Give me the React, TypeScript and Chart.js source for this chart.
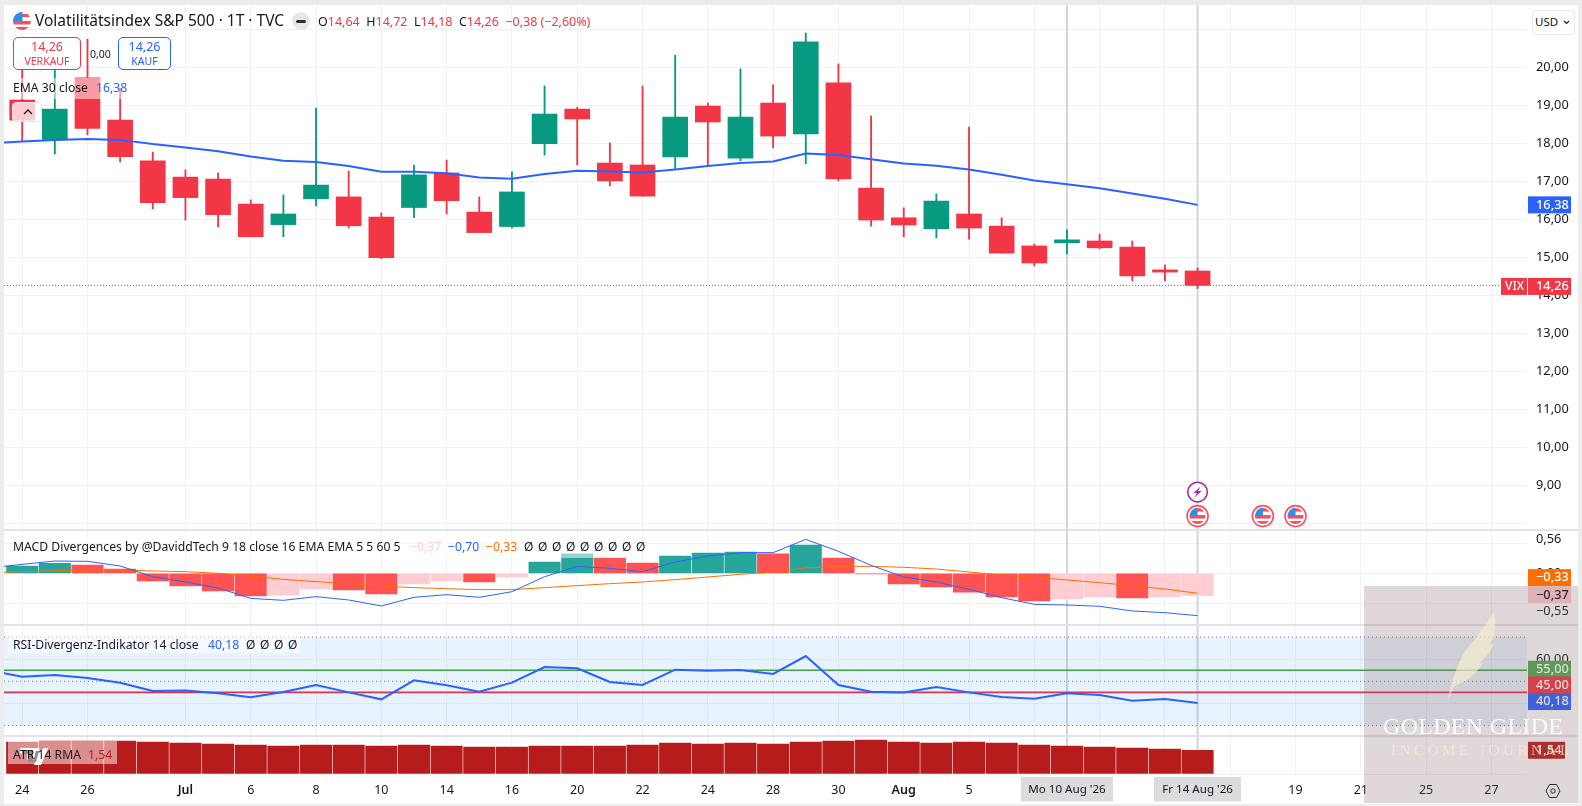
import React, { useEffect, useRef } from "react";
import { Chart, registerables } from "chart.js";

Chart.register(...registerables);

const FONT = '"Noto Sans", "Open Sans", sans-serif';
const RED = "#f23645";
const GREEN = "#089981";
const BLUE = "#2962ff";
const ORANGE = "#ff6d00";

// ---- Data -----------------------------------------------------------------
const candleOpen = [19.14,18.10,19.72,18.61,17.54,17.11,17.06,16.40,15.86,16.54,16.59,16.06,16.31,17.22,16.19,15.81,17.99,18.90,17.48,17.43,17.64,18.98,17.61,19.06,18.25,19.59,16.82,16.04,15.75,16.14,15.82,15.30,15.38,15.43,15.27,14.67,14.64];
const candleClose = [18.61,18.90,18.39,17.65,16.44,16.57,16.12,15.54,16.14,16.90,15.83,14.99,17.17,16.49,15.65,16.72,18.77,18.64,17.01,16.61,18.69,18.56,18.69,18.19,20.67,17.06,15.98,15.85,16.48,15.77,15.11,14.85,15.46,15.25,14.51,14.61,14.26];
const candleHigh = [20.10,20.06,20.74,19.45,17.77,17.30,17.22,16.51,16.64,18.93,17.27,16.17,17.43,17.56,16.59,17.25,19.51,18.95,18.01,19.51,20.32,19.06,19.96,19.54,20.90,20.09,18.72,16.30,16.67,18.43,16.04,15.35,15.72,15.61,15.43,14.80,14.72];
const candleLow = [18.04,17.72,18.22,17.51,16.27,15.98,15.80,15.54,15.54,16.35,15.77,14.96,16.04,16.14,15.65,15.77,17.69,17.43,16.88,16.61,17.32,17.43,17.54,17.88,17.46,17.01,15.82,15.54,15.51,15.48,15.11,14.77,15.09,15.22,14.38,14.38,14.18];
const emaValues = [18.0,18.05,18.09,18.11,18.09,17.98,17.89,17.79,17.65,17.54,17.51,17.40,17.25,17.25,17.21,17.10,17.07,17.19,17.28,17.26,17.23,17.31,17.40,17.48,17.52,17.73,17.69,17.58,17.47,17.41,17.31,17.17,17.02,16.92,16.82,16.68,16.54,16.38];
const histValues = [0.12,0.165,0.137,0.07,-0.127,-0.21,-0.29,-0.375,-0.36,-0.26,-0.276,-0.34,-0.177,-0.127,-0.144,-0.06,0.187,0.32,0.253,0.17,0.286,0.336,0.352,0.32,0.468,0.253,-0.012,-0.177,-0.226,-0.31,-0.39,-0.458,-0.425,-0.392,-0.408,-0.392,-0.37];
const histKinds = ["g","g","r","r","r","r","r","r","p","p","r","r","p","p","r","p","g","g","r","r","g","g","g","r","g","r","r","r","r","r","r","r","p","p","r","p","p"];
const macdValues = [0.088,0.148,0.203,0.198,0.121,-0.056,-0.144,-0.243,-0.414,-0.447,-0.386,-0.441,-0.54,-0.397,-0.353,-0.397,-0.304,-0.056,0.115,0.082,0.027,0.187,0.286,0.341,0.341,0.561,0.363,0.132,-0.061,-0.144,-0.265,-0.403,-0.513,-0.524,-0.545,-0.623,-0.651,-0.70];
const signalValues = [0.011,0.027,0.043,0.055,0.055,0.038,0.027,0,-0.045,-0.1,-0.138,-0.171,-0.21,-0.237,-0.254,-0.27,-0.27,-0.237,-0.204,-0.171,-0.144,-0.105,-0.061,-0.017,0.021,0.088,0.115,0.115,0.099,0.071,0.021,-0.028,-0.067,-0.11,-0.155,-0.205,-0.26,-0.33];
const rsiValues = [54.8,52.08,52.84,51.48,49.38,45.6,45.9,44.56,42.75,45.16,48.32,45.0,41.85,50.43,48.17,45.3,49.38,56.45,55.85,49.68,48.32,55.25,54.8,55.1,53.3,61.4,48.3,45.3,45.0,47.4,45.0,42.9,42.15,44.6,43.8,41.2,42.0,40.18];
const atrValues = [2.08,2.14,2.14,2.14,2.08,2.01,1.95,1.88,1.82,1.88,1.88,1.82,1.88,1.82,1.75,1.75,1.82,1.82,1.82,1.88,2.01,1.95,2.01,1.95,2.08,2.14,2.21,2.08,2.01,2.08,2.01,1.88,1.82,1.75,1.69,1.62,1.54];

const timeTickIndex = [0,2,5,7,9,11,13,15,17,19,21,23,25,27,29,31,33,35,37,39,41,43,45];
const timeTickLabels = ["24","26","Jul","6","8","10","14","16","20","22","24","28","30","Aug","5","","","","","19","21","25","27"];
const selectedIndex = [32, 36];
const selectedLabels = ["Mo 10 Aug '26", "Fr 14 Aug '26"];
const priceTicks = [21,20,19,18,17,16,15,14,13,12,11,10,9,8];
const priceTickHidden = [21, 8];
const flagEventIndex = [36, 38, 39];
const boltEventIndex = [36];
const lastClose = 14.26;
const lastEma = 16.38;

const X_MIN = -0.557;
const X_MAX = 46.09;
const GRID = "#f0f1f5";
const indices = candleOpen.map((_, i) => i);
const lineFrom = (values: number[]) => values.map((y, i) => ({ x: i - 1, y }));
const flat = (y: number) => [{ x: X_MIN, y }, { x: X_MAX, y }];
const num = (v: number) => v.toFixed(2).replace(".", ",").replace("-", "−");

type Tag = { value: number; text: string; bg: string; fg: string; dy?: number; w?: number; plain?: boolean };

function paneOptions(yMin: number, yMax: number, yTicks: number[], yLabel: (v: number) => string, yGrid: (v: number) => boolean, showTime: boolean): any {
  return {
    responsive: false,
    animation: false,
    events: [],
    layout: { padding: 0 },
    plugins: { legend: { display: false }, tooltip: { enabled: false } },
    scales: {
      x: {
        type: "linear",
        offset: false,
        min: X_MIN,
        max: X_MAX,
        display: true,
        afterBuildTicks: (s: any) => { s.ticks = timeTickIndex.map((value) => ({ value })); },
        afterFit: (s: any) => { s.height = showTime ? 30 : 0; s.paddingLeft = 0; s.paddingRight = 0; },
        border: { display: false },
        grid: { offset: false, color: GRID, lineWidth: 1, drawTicks: false },
        ticks: {
          display: showTime,
          autoSkip: false,
          maxRotation: 0,
          padding: 9,
          color: "#131722",
          font: (c: any) => ({ family: FONT, size: 12.5, weight: c.tick && (c.tick.value === 27 || c.tick.value === 5) ? "600" : "400" }),
          callback: (v: number) => { const i = timeTickIndex.indexOf(v); return i >= 0 ? timeTickLabels[i] : ""; },
        },
      },
      y: {
        position: "right",
        min: yMin,
        max: yMax,
        afterBuildTicks: (s: any) => { s.ticks = yTicks.map((value) => ({ value })); },
        afterFit: (s: any) => { s.width = 51; s.paddingTop = 0; s.paddingBottom = 0; },
        border: { display: false },
        grid: { drawTicks: false, color: (c: any) => (c.tick && yGrid(c.tick.value) ? GRID : "rgba(0,0,0,0)") },
        ticks: {
          autoSkip: false,
          padding: 9,
          color: "#131722",
          font: { family: FONT, size: 12.8 },
          callback: (v: number) => yLabel(v),
        },
      },
    },
  };
}

function drawFlag(ctx: CanvasRenderingContext2D, cx: number, cy: number) {
  ctx.save();
  ctx.beginPath(); ctx.arc(cx, cy, 10.5, 0, Math.PI * 2);
  ctx.fillStyle = "#fff"; ctx.fill();
  ctx.strokeStyle = "#f7525f"; ctx.lineWidth = 1.6; ctx.stroke();
  ctx.beginPath(); ctx.arc(cx, cy, 8, 0, Math.PI * 2); ctx.clip();
  ctx.fillStyle = "#fff"; ctx.fillRect(cx - 9, cy - 9, 18, 18);
  ctx.fillStyle = "#f0525f";
  ctx.fillRect(cx - 9, cy - 8, 18, 3.5);
  ctx.fillRect(cx - 9, cy - 1, 18, 3.5);
  ctx.fillRect(cx - 9, cy + 5, 18, 4);
  ctx.fillStyle = "#2f8fe8"; ctx.fillRect(cx - 9, cy - 9, 9, 9);
  ctx.restore();
}

function drawBolt(ctx: CanvasRenderingContext2D, cx: number, cy: number) {
  ctx.save();
  ctx.beginPath(); ctx.arc(cx, cy, 9.8, 0, Math.PI * 2);
  ctx.fillStyle = "#fff"; ctx.fill();
  ctx.strokeStyle = "#9c27b0"; ctx.lineWidth = 1.5; ctx.stroke();
  ctx.fillStyle = "#9c27b0";
  ctx.beginPath();
  ctx.moveTo(cx + 3, cy - 5.5); ctx.lineTo(cx - 4, cy + 1); ctx.lineTo(cx - 0.5, cy + 1);
  ctx.lineTo(cx - 3, cy + 5.5); ctx.lineTo(cx + 4, cy - 1); ctx.lineTo(cx + 0.5, cy - 1);
  ctx.closePath(); ctx.fill();
  ctx.restore();
}

function panePlugin(tags: Tag[], extras?: (chart: any) => void): any {
  return {
    id: "pane",
    beforeDatasetsDraw(chart: any) {
      const { ctx, chartArea, scales } = chart;
      ctx.save();
      ctx.strokeStyle = "rgba(200,202,206,0.8)";
      ctx.lineWidth = 2;
      selectedIndex.forEach((i) => {
        const x = scales.x.getPixelForValue(i);
        ctx.beginPath(); ctx.moveTo(x, chartArea.top); ctx.lineTo(x, chartArea.bottom); ctx.stroke();
      });
      ctx.restore();
    },
    afterDraw(chart: any) {
      const { ctx, scales } = chart;
      ctx.save();
      ctx.textBaseline = "middle";
      ctx.textAlign = "left";
      tags.forEach((t) => {
        const y = scales.y.getPixelForValue(t.value) + (t.dy || 0);
        if (!t.plain) {
          ctx.fillStyle = t.bg;
          ctx.fillRect(1524, y - 8.5, t.w || 43, 17);
        }
        ctx.fillStyle = t.fg;
        ctx.font = `${t.plain ? 400 : 500} 12.8px ${FONT}`;
        ctx.fillText(t.text, 1532, y);
      });
      if (extras) extras(chart);
      ctx.restore();
    },
  };
}

function useChart(ref: React.RefObject<HTMLCanvasElement | null>, make: () => any) {
  useEffect(() => {
    const chart = new Chart(ref.current as HTMLCanvasElement, make());
    return () => chart.destroy();
  }, []);
}

function mainConfig() {
  return {
    type: "bar",
    data: {
      datasets: [
        { type: "line", data: lineFrom(emaValues), borderColor: BLUE, borderWidth: 2, pointRadius: 0, tension: 0, order: 1 },
        { type: "line", data: flat(lastClose), borderColor: RED, borderWidth: 1, borderDash: [1, 2], pointRadius: 0, order: 4 },
        { data: indices.map((i) => ({ x: i, y: [candleOpen[i], candleClose[i]] })), backgroundColor: indices.map((i) => (candleClose[i] >= candleOpen[i] ? GREEN : RED)), barThickness: 25, grouped: false, borderSkipped: false, order: 2 },
        { data: indices.map((i) => ({ x: i, y: [candleLow[i], candleHigh[i]] })), backgroundColor: indices.map((i) => (candleClose[i] >= candleOpen[i] ? GREEN : RED)), barThickness: 1.2, grouped: false, borderSkipped: false, order: 3 },
      ],
    },
    options: paneOptions(20 - (529 - 67.3) / 38, 20 + (67.3 - 5) / 38, priceTicks, (v) => (priceTickHidden.includes(v) ? "" : num(v)), () => true, false),
    plugins: [panePlugin(
      [
        { value: lastEma, text: num(lastEma), bg: BLUE, fg: "#fff" },
        { value: lastClose, text: num(lastClose), bg: RED, fg: "#fff", dy: 1 },
      ],
      (chart) => {
        const { ctx, scales } = chart;
        const y = scales.y.getPixelForValue(lastClose) + 1;
        ctx.fillStyle = RED;
        ctx.fillRect(1497, y - 8.5, 26, 17);
        ctx.fillStyle = "#fff";
        ctx.font = `500 12px ${FONT}`;
        ctx.fillText("VIX", 1501, y);
        const eventY = scales.y.getPixelForValue(8.19);
        flagEventIndex.forEach((i) => drawFlag(ctx, scales.x.getPixelForValue(i), eventY));
        boltEventIndex.forEach((i) => drawBolt(ctx, scales.x.getPixelForValue(i), eventY - 24));
      },
    )],
  };
}

function macdConfig() {
  const colors: Record<string, string> = { g: "#26a69a", r: "#ff5252", p: "#ffcdd2" };
  return {
    type: "bar",
    data: {
      datasets: [
        { type: "line", data: lineFrom(macdValues), borderColor: BLUE, borderWidth: 1, pointRadius: 0, tension: 0, order: 1 },
        { type: "line", data: lineFrom(signalValues), borderColor: ORANGE, borderWidth: 1, pointRadius: 0, tension: 0, order: 2 },
        { data: indices.map((i) => ({ x: i, y: histValues[i] })), backgroundColor: histKinds.map((k) => colors[k]), barThickness: 31.4, order: 3 },
      ],
    },
    options: paneOptions((573.3 - 624) / 60.5, (573.3 - 530) / 60.5, [0.56, 0.5, 0, -0.5], (v) => (v === 0.56 ? "0,56" : v === 0 ? "0,00" : ""), (v) => v !== 0.56, false),
    plugins: [panePlugin([
      { value: -0.33, text: "−0,33", bg: ORANGE, fg: "#fff", dy: -15.6 },
      { value: -0.37, text: "−0,37", bg: "#ffcdd2", fg: "#131722", dy: -0.7 },
      { value: -0.55, text: "−0,55", bg: "", fg: "#131722", dy: 5, plain: true },
    ])],
  };
}

function rsiConfig() {
  const dotted = { borderColor: "#787b86", borderWidth: 1, borderDash: [1, 3], pointRadius: 0 };
  return {
    type: "line",
    data: {
      datasets: [
        { data: lineFrom(rsiValues), borderColor: BLUE, borderWidth: 2, pointRadius: 0, tension: 0, order: 1 },
        { data: flat(55), borderColor: "#43a047", borderWidth: 1.6, pointRadius: 0, order: 2 },
        { data: flat(45), borderColor: "#e0324f", borderWidth: 1.6, pointRadius: 0, order: 3 },
        { data: flat(50), ...dotted, order: 4 },
        { data: flat(70), ...dotted, fill: "+1", backgroundColor: "rgba(33,150,243,0.11)", order: 5 },
        { data: flat(30), ...dotted, order: 6 },
      ],
    },
    options: paneOptions(50 - (735 - 681.3) / 2.215, 50 + (681.3 - 625) / 2.215, [60, 40], (v) => (v === 60 ? "60,00" : ""), () => true, false),
    plugins: [panePlugin([
      { value: 55, text: "55,00", bg: "#4caf50", fg: "#fff", dy: -1 },
      { value: 45, text: "45,00", bg: "#f23645", fg: "#fff", dy: -7.4 },
      { value: 40.18, text: "40,18", bg: BLUE, fg: "#fff", dy: -1.5 },
    ])],
  };
}

function atrConfig() {
  return {
    type: "bar",
    data: {
      datasets: [
        { data: indices.map((i) => ({ x: i, y: atrValues[i] })), backgroundColor: "#b71c1c", barThickness: 31.4 },
      ],
    },
    options: paneOptions(0, 38 / 15.4, [0], () => "", () => true, true),
    plugins: [panePlugin(
      [{ value: atrValues[36], text: num(atrValues[36]), bg: "#b71c1c", fg: "#fff", dy: 0, w: 37 }],
      (chart) => {
        const { ctx, scales } = chart;
        selectedIndex.forEach((i, k) => {
          const x = scales.x.getPixelForValue(i);
          const w = k === 0 ? 92 : 87;
          ctx.fillStyle = "#dcdcdc";
          ctx.fillRect(x - w / 2, 41, w, 24.5);
          ctx.fillStyle = "#131722";
          ctx.font = `400 11.6px ${FONT}`;
          ctx.textAlign = "center";
          ctx.fillText(selectedLabels[k], x, 54);
          ctx.textAlign = "left";
        });
      },
    )],
  };
}

const T: React.FC<any> = ({ x, y, size = 13, color = "#131722", weight = 400, children, style }) => (
  <span style={{ position: "absolute", left: x, top: y, transform: "translateY(-50%)", fontSize: size, color, fontWeight: weight, whiteSpace: "nowrap", lineHeight: 1, ...style }}>{children}</span>
);

const Box: React.FC<any> = ({ x, y, w, h, style }) => (
  <div style={{ position: "absolute", left: x, top: y, width: w, height: h, ...style }} />
);

const HeaderFlag = () => (
  <svg width="18" height="18" viewBox="0 0 18 18" style={{ position: "absolute", left: 13, top: 12 }}>
    <defs><clipPath id="hf"><circle cx="9" cy="9" r="9" /></clipPath></defs>
    <g clipPath="url(#hf)">
      <rect width="18" height="18" fill="#fff" />
      <rect y="2" width="18" height="3" fill="#f0525f" />
      <rect y="9" width="18" height="3.5" fill="#f0525f" />
      <rect y="15" width="18" height="3" fill="#f0525f" />
      <rect width="9.5" height="9" fill="#2f8fe8" />
    </g>
  </svg>
);

export default function App() {
  const mainRef = useRef<HTMLCanvasElement>(null);
  const macdRef = useRef<HTMLCanvasElement>(null);
  const rsiRef = useRef<HTMLCanvasElement>(null);
  const atrRef = useRef<HTMLCanvasElement>(null);
  useChart(mainRef, mainConfig);
  useChart(macdRef, macdConfig);
  useChart(rsiRef, rsiConfig);
  useChart(atrRef, atrConfig);

  const canvas = (top: number, height: number, ref: any) => (
    <canvas ref={ref} width={1574} height={height} style={{ position: "absolute", left: 4, top, width: 1574, height, display: "block" }} />
  );
  const zero = "Ø";
  return (
    <div style={{ position: "fixed", left: 0, top: 0, width: 1582, height: 806, background: "#ececec", overflow: "hidden", fontFamily: FONT }}>
      <Box x={4} y={5} w={1574} h={799} style={{ background: "#fff" }} />
      {canvas(5, 524, mainRef)}
      {canvas(530, 94, macdRef)}
      {canvas(625, 110, rsiRef)}
      {canvas(736, 68, atrRef)}
      <Box x={4} y={529} w={1574} h={1.5} style={{ background: "#e0e3eb" }} />
      <Box x={4} y={624} w={1574} h={1.5} style={{ background: "#e0e3eb" }} />
      <Box x={4} y={735} w={1574} h={1.5} style={{ background: "#e0e3eb" }} />

      <HeaderFlag />
      <T x={35} y={21} size={15.5}>Volatilitätsindex S&amp;P 500 · 1T · TVC</T>
      <Box x={292} y={12} w={18} h={18} style={{ background: "#e6e7ea", borderRadius: 9 }} />
      <Box x={296} y={19.5} w={10} h={3.5} style={{ background: "#2a2e39", borderRadius: 1.5 }} />
      <T x={318} y={22} size={12.5}>O<span style={{ color: RED }}>14,64</span>&nbsp;&nbsp;H<span style={{ color: RED }}>14,72</span>&nbsp;&nbsp;L<span style={{ color: RED }}>14,18</span>&nbsp;&nbsp;C<span style={{ color: RED }}>14,26</span>&nbsp;&nbsp;<span style={{ color: RED }}>−0,38 (−2,60%)</span></T>

      <Box x={13} y={37} w={68} h={33} style={{ border: `1px solid ${RED}`, borderRadius: 5, background: "#fff", boxSizing: "border-box" }} />
      <T x={13} y={46.5} size={12.5} color={RED} style={{ width: 68, textAlign: "center" }}>14,26</T>
      <T x={13} y={61} size={10.5} color={RED} style={{ width: 68, textAlign: "center" }}>VERKAUF</T>
      <T x={90} y={53.5} size={10.5}>0,00</T>
      <Box x={118} y={37} w={53} h={33} style={{ border: `1px solid ${BLUE}`, borderRadius: 5, background: "#fff", boxSizing: "border-box" }} />
      <T x={118} y={46.5} size={12.5} color={BLUE} style={{ width: 53, textAlign: "center" }}>14,26</T>
      <T x={118} y={61} size={10.5} color={BLUE} style={{ width: 53, textAlign: "center" }}>KAUF</T>

      <Box x={8} y={78} w={120} h={21} style={{ background: "rgba(255,255,255,0.5)" }} />
      <T x={13} y={88} size={12.2}>EMA 30 close</T>
      <T x={96} y={88} size={12.2} color={BLUE}>16,38</T>
      <Box x={12} y={102} w={30} h={20} style={{ border: "1px solid #e0e3eb", borderRadius: 4, background: "rgba(255,255,255,0.75)", boxSizing: "border-box" }} />
      <svg width="10" height="6" viewBox="0 0 10 6" style={{ position: "absolute", left: 23, top: 109 }}><path d="M1 5 L5 1 L9 5" fill="none" stroke="#131722" strokeWidth="1.4" /></svg>

      <Box x={1531.5} y={9.5} w={43} h={25} style={{ border: "1px solid #e6e7ea", borderRadius: 4, background: "#fff", boxSizing: "border-box" }} />
      <T x={1535} y={22} size={11.5}>USD</T>
      <svg width="7" height="5" viewBox="0 0 7 5" style={{ position: "absolute", left: 1563, top: 20 }}><path d="M1 1 L3.5 3.5 L6 1" fill="none" stroke="#131722" strokeWidth="1.1" /></svg>

      <Box x={8} y={536} w={622} h={22} style={{ background: "rgba(255,255,255,0.5)" }} />
      <T x={13} y={547} size={12.2}>MACD Divergences by @DaviddTech 9 18 close 16 EMA EMA 5 5 60 5</T>
      <T x={410} y={547} size={12.2} color="#ffcdd2">−0,37</T>
      <T x={448} y={547} size={12.2} color={BLUE}>−0,70</T>
      <T x={486} y={547} size={12.2} color={ORANGE}>−0,33</T>
      {[0,1,2,3,4,5,6,7,8].map((i) => <T key={i} x={524 + i * 14} y={547} size={12}>{zero}</T>)}

      <Box x={8} y={636} w={292} h={17} style={{ background: "rgba(255,255,255,0.55)" }} />
      <T x={13} y={645} size={12.2}>RSI-Divergenz-Indikator 14 close</T>
      <T x={208} y={645} size={12.2} color={BLUE}>40,18</T>
      {[0,1,2,3].map((i) => <T key={i} x={246 + i * 14} y={645} size={12}>{zero}</T>)}

      <Box x={8} y={741} w={109} h={23} style={{ background: "rgba(255,255,255,0.5)" }} />
      <svg width="28" height="17" viewBox="0 0 28 17" style={{ position: "absolute", left: 20, top: 748 }}>
        <path d="M0 0 H19 L20 4 L24 0 H28 L21 17 H14 L16 12 H7 V6 H0 Z" fill="#fff" />
        <path d="M2 2 H13 V14 H8 V6 H2 Z M16 3 H19 L16 14 H13 Z" fill="#8c8c8c" />
      </svg>
      <T x={13} y={755} size={12.2}>ATR 14 RMA</T>
      <T x={88} y={755} size={12.2} color="#b71c1c">1,54</T>

      <svg width="16" height="16" viewBox="0 0 16 16" style={{ position: "absolute", left: 1545, top: 783 }}><path d="M4.5 1.5 H11.5 L15 8 L11.5 14.5 H4.5 L1 8 Z" fill="none" stroke="#131722" strokeWidth="1" /><circle cx="8" cy="8" r="2.2" fill="none" stroke="#131722" strokeWidth="1" /></svg>

      <Box x={1364} y={586} w={214} h={217} style={{ background: "rgba(131,99,99,0.25)" }} />
      <svg width="80" height="100" viewBox="0 0 80 100" style={{ position: "absolute", left: 1440, top: 606 }}>
        <path d="M8 94 C12 70 22 46 34 34 C42 24 50 14 53 6 C57 20 55 32 50 38 L54 38 C50 46 46 52 40 56 L43 57 C36 68 26 76 14 80 Z" fill="rgba(250,240,205,0.65)" />
      </svg>
      <T x={1383} y={726} size={24} color="rgba(255,255,255,0.9)" style={{ fontFamily: '"Liberation Serif", serif', letterSpacing: 0.3 }}>GOLDEN GLIDE</T>
      <T x={1391} y={750} size={15} color="rgba(247,238,210,0.7)" style={{ fontFamily: '"Liberation Serif", serif', letterSpacing: 3.6 }}>INCOME JOURNAL</T>
    </div>
  );
}
